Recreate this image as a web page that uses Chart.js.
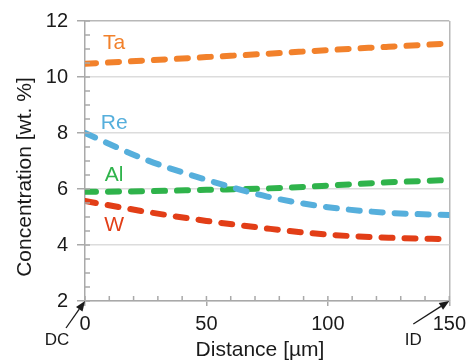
<!DOCTYPE html>
<html>
<head>
<meta charset="utf-8">
<title>Concentration profile</title>
<script src="https://cdn.jsdelivr.net/npm/chart.js@4.4.0/dist/chart.umd.min.js"></script>
<style>
  html, body { margin: 0; padding: 0; background: #fff; }
  #wrap { width: 472px; height: 364px; }
</style>
</head>
<body>
<div id="wrap"><canvas id="profile" width="472" height="364"></canvas></div>
<script>
// Distance along the profile [µm]
const distances = [0, 25, 50, 75, 100, 125, 150];

// Concentration [wt.%]
const taValues = [10.47, 10.59, 10.71, 10.83, 10.96, 11.08, 11.2];
const reValues = [8.0, 7.05, 6.33, 5.73, 5.35, 5.15, 5.07];
const alValues = [5.9, 5.92, 5.97, 6.02, 6.12, 6.24, 6.32];
const wValues = [5.57, 5.19, 4.86, 4.59, 4.37, 4.26, 4.21];

const seriesNames = ["Ta", "Re", "Al", "W"];
const seriesColors = ["#f2812b", "#56afdc", "#2fb34b", "#e23e17"];

const xTickValues = [0, 50, 100, 150];
const yTickValues = [2, 4, 6, 8, 10, 12];

const FONT = "'Liberation Sans', Arial, sans-serif";
const AXIS_GRAY = "#a9a9a9";

function toPoints(values) {
  return distances.map((d, i) => ({ x: d, y: values[i] }));
}

function makeDataset(name, values, color) {
  return {
    label: name,
    data: toPoints(values),
    borderColor: color,
    borderWidth: 6,
    borderDash: [11, 12],
    borderCapStyle: "round",
    pointRadius: 0,
    fill: false,
    cubicInterpolationMode: "monotone",
  };
}

// Label spots for each series, in data units (distance, concentration)
const labelSpots = [
  [12, 11.22],
  [12, 8.36],
  [12, 6.5],
  [12, 4.7],
];

const annotations = {
  id: "annotations",
  afterDraw(chart) {
    const ctx = chart.ctx;
    const xs = chart.scales.x;
    const ys = chart.scales.y;
    const left = chart.chartArea.left;
    const bottom = chart.chartArea.bottom;

    ctx.save();

    // minor ticks, pointing into the plot
    ctx.strokeStyle = AXIS_GRAY;
    ctx.lineWidth = 1.5;
    ctx.beginPath();
    for (let i = 0; i <= 20; i++) {
      const py = ys.getPixelForValue(2 + i * 0.5);
      ctx.moveTo(left, py);
      ctx.lineTo(left + 5, py);
    }
    for (let i = 0; i <= 15; i++) {
      const px = xs.getPixelForValue(i * 10);
      ctx.moveTo(px, bottom);
      ctx.lineTo(px, bottom - 5);
    }
    ctx.stroke();

    // series names
    ctx.font = "21px " + FONT;
    ctx.textAlign = "center";
    ctx.textBaseline = "middle";
    seriesNames.forEach((name, i) => {
      ctx.fillStyle = seriesColors[i];
      ctx.fillText(
        name,
        xs.getPixelForValue(labelSpots[i][0]),
        ys.getPixelForValue(labelSpots[i][1])
      );
    });

    // DC / ID arrows
    const tipDC = { x: xs.getPixelForValue(0), y: ys.getPixelForValue(2) };
    const tipID = { x: xs.getPixelForValue(150), y: ys.getPixelForValue(2) };
    drawArrow(ctx, tipDC.x - 19, tipDC.y + 27, tipDC.x, tipDC.y);
    drawArrow(ctx, tipID.x - 36, tipID.y + 23, tipID.x, tipID.y);

    ctx.fillStyle = "#1a1a1a";
    ctx.font = "17px " + FONT;
    ctx.fillText("DC", tipDC.x - 28, tipDC.y + 39);
    ctx.fillText("ID", tipID.x - 36, tipID.y + 39);

    // axis titles
    ctx.font = "21px " + FONT;
    ctx.fillText("Distance [µm]", 260, 350);
    ctx.translate(25, 177);
    ctx.rotate(-Math.PI / 2);
    ctx.fillText("Concentration [wt. %]", 0, 0);

    ctx.restore();
  },
};

function drawArrow(ctx, x0, y0, x1, y1) {
  const ang = Math.atan2(y1 - y0, x1 - x0);
  const len = 10;
  const half = 4;
  const bx = x1 - len * Math.cos(ang);
  const by = y1 - len * Math.sin(ang);
  ctx.strokeStyle = "#1a1a1a";
  ctx.fillStyle = "#1a1a1a";
  ctx.lineWidth = 1.3;
  ctx.beginPath();
  ctx.moveTo(x0, y0);
  ctx.lineTo(bx, by);
  ctx.stroke();
  ctx.beginPath();
  ctx.moveTo(x1, y1);
  ctx.lineTo(bx + half * Math.sin(ang), by - half * Math.cos(ang));
  ctx.lineTo(bx - half * Math.sin(ang), by + half * Math.cos(ang));
  ctx.closePath();
  ctx.fill();
}

const profileChart = new Chart(document.getElementById("profile"), {
  type: "line",
  data: {
    datasets: [
      makeDataset("Ta", taValues, seriesColors[0]),
      makeDataset("Re", reValues, seriesColors[1]),
      makeDataset("Al", alValues, seriesColors[2]),
      makeDataset("W", wValues, seriesColors[3]),
    ],
  },
  options: {
    responsive: false,
    animation: false,
    devicePixelRatio: 1,
    layout: { padding: { left: 0, right: 21, top: 21, bottom: 0 } },
    plugins: {
      legend: { display: false },
      tooltip: { enabled: false },
    },
    scales: {
      x: {
        type: "linear",
        min: 0,
        max: 150,
        afterBuildTicks: (scale) => {
          scale.ticks = xTickValues.map((v) => ({ value: v }));
        },
        afterFit: (scale) => {
          scale.height = 63;
        },
        ticks: {
          color: "#1a1a1a",
          font: { family: FONT, size: 20 },
          padding: 6,
          maxRotation: 0,
        },
        grid: {
          color: (c) => (c.tick && c.tick.value === 150 ? "#b8b8b8" : "rgba(0,0,0,0)"),
          tickColor: AXIS_GRAY,
          tickLength: 5,
          lineWidth: 1.5,
        },
        border: { color: AXIS_GRAY, width: 1.5 },
      },
      y: {
        min: 2,
        max: 12,
        afterBuildTicks: (scale) => {
          scale.ticks = yTickValues.map((v) => ({ value: v }));
        },
        afterFit: (scale) => {
          scale.width = 85;
        },
        ticks: {
          color: "#1a1a1a",
          font: { family: FONT, size: 20 },
          padding: 9,
        },
        grid: {
          color: (c) => (c.tick && c.tick.value === 12 ? "#b8b8b8" : "#dcdcdc"),
          tickColor: AXIS_GRAY,
          tickLength: 8,
          lineWidth: 1.5,
        },
        border: { color: AXIS_GRAY, width: 1.5 },
      },
    },
  },
  plugins: [annotations],
});
</script>
</body>
</html>
